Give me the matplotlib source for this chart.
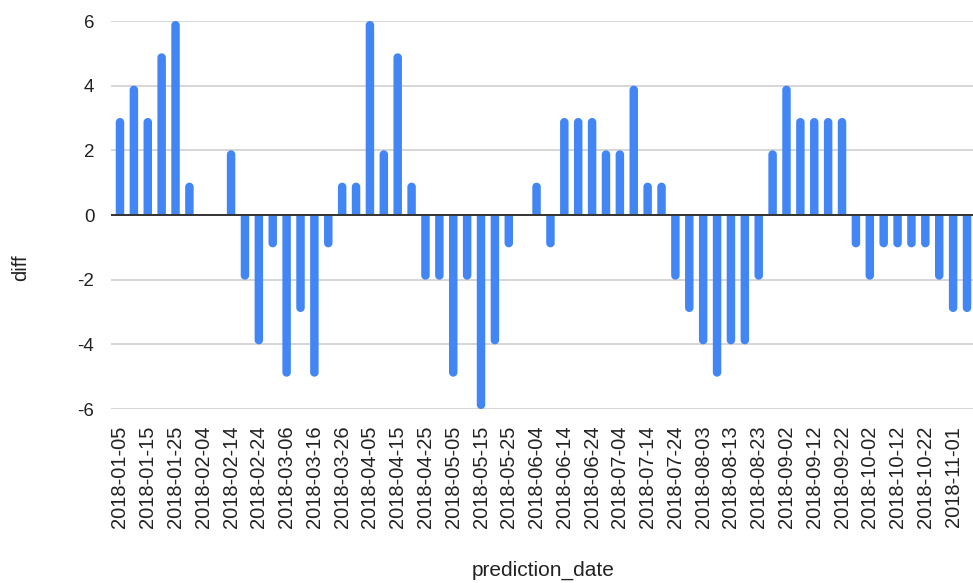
import matplotlib
matplotlib.use("Agg")
import matplotlib.pyplot as plt
import matplotlib.dates as mdates
from matplotlib.collections import PolyCollection
import numpy as np
import pandas as pd

# Daily forecast differences, sampled every five days
prediction_date = [
    "2018-01-05", "2018-01-10", "2018-01-15", "2018-01-20", "2018-01-25", "2018-01-30",
    "2018-02-04", "2018-02-09", "2018-02-14", "2018-02-19", "2018-02-24", "2018-03-01",
    "2018-03-06", "2018-03-11", "2018-03-16", "2018-03-21", "2018-03-26", "2018-03-31",
    "2018-04-05", "2018-04-10", "2018-04-15", "2018-04-20", "2018-04-25", "2018-04-30",
    "2018-05-05", "2018-05-10", "2018-05-15", "2018-05-20", "2018-05-25", "2018-05-30",
    "2018-06-04", "2018-06-09", "2018-06-14", "2018-06-19", "2018-06-24", "2018-06-29",
    "2018-07-04", "2018-07-09", "2018-07-14", "2018-07-19", "2018-07-24", "2018-07-29",
    "2018-08-03", "2018-08-08", "2018-08-13", "2018-08-18", "2018-08-23", "2018-08-28",
    "2018-09-02", "2018-09-07", "2018-09-12", "2018-09-17", "2018-09-22", "2018-09-27",
    "2018-10-02", "2018-10-07", "2018-10-12", "2018-10-17", "2018-10-22", "2018-10-27",
    "2018-11-01", "2018-11-06",
]
diff = [
    3, 4, 3, 5, 6, 1,
    0, 0, 2, -2, -4, -1,
    -5, -3, -5, -1, 1, 1,
    6, 2, 5, 1, -2, -2,
    -5, -2, -6, -4, -1, 0,
    1, -1, 3, 3, 3, 2,
    2, 4, 1, 1, -2, -3,
    -4, -5, -4, -4, -2, 2,
    4, 3, 3, 3, 3, -1,
    -2, -1, -1, -1, -1, -2,
    -3, -3,
]
tick_dates = [
    "2018-01-05", "2018-01-15", "2018-01-25", "2018-02-04", "2018-02-14", "2018-02-24",
    "2018-03-06", "2018-03-16", "2018-03-26", "2018-04-05", "2018-04-15", "2018-04-25",
    "2018-05-05", "2018-05-15", "2018-05-25", "2018-06-04", "2018-06-14", "2018-06-24",
    "2018-07-04", "2018-07-14", "2018-07-24", "2018-08-03", "2018-08-13", "2018-08-23",
    "2018-09-02", "2018-09-12", "2018-09-22", "2018-10-02", "2018-10-12", "2018-10-22",
    "2018-11-01",
]
y_ticks = [-6, -4, -2, 0, 2, 4, 6]

plt.rcParams["font.family"] = ["Liberation Sans", "DejaVu Sans"]

BAR_COLOR = "#4285F4"
TEXT_COLOR = "#222222"

dates = pd.to_datetime(prediction_date)
ticks = pd.to_datetime(tick_dates)
x_num = mdates.date2num(dates.to_pydatetime())
values = np.array(diff, dtype=float)

fig = plt.figure(figsize=(9.73, 5.83), dpi=100)
ax_h_px = 409 - 21
ax = fig.add_axes([111 / 973, 1 - 409 / 583, 862 / 973, ax_h_px / 583])

ax.set_ylim(-6, 6)
x_lo = x_num[0] - 3.24
x_hi = x_num[-1] + 2.16
ax.set_xlim(x_lo, x_hi)
ax.xaxis_date()

# Bars: flat at zero, rounded (elliptical in data units) at the value end
bar_days = 3.05
bar_px = bar_days * 862 / (x_hi - x_lo)
cap_r = (bar_px / 2) * 12 / ax_h_px
theta = np.linspace(np.pi, 0, 19)
polys = []
for xc, v in zip(x_num, values):
    if v == 0:
        continue
    s = np.sign(v)
    end = v - s * cap_r
    half = bar_days / 2
    arc_x = xc + half * np.cos(theta)
    arc_y = end + s * cap_r * np.sin(theta)
    pts = [(xc - half, 0.0)] + list(zip(arc_x, arc_y)) + [(xc + half, 0.0)]
    polys.append(pts)
ax.add_collection(PolyCollection(polys, facecolors=BAR_COLOR, edgecolors="none",
                                 zorder=3))

ax.set_yticks(y_ticks)
ax.set_yticklabels([str(v) for v in y_ticks], fontsize=13.5, color=TEXT_COLOR)
ax.grid(axis="y", color="#cccccc", linewidth=1.1, zorder=0)
ax.axhline(0, color="#333333", linewidth=1.4, zorder=4)

ax.set_xticks(mdates.date2num(ticks.to_pydatetime()))
ax.set_xticklabels(tick_dates, rotation=90, fontsize=14.5, color=TEXT_COLOR)

ax.tick_params(axis="both", length=0)
ax.tick_params(axis="y", pad=12)
ax.tick_params(axis="x", pad=12)
for side in ax.spines.values():
    side.set_visible(False)

fig.text(21 / 973, 1 - 268 / 583, "diff", rotation=90, fontsize=14.5,
         color=TEXT_COLOR, ha="center", va="center")
fig.text(543 / 973, 1 - 570 / 583, "prediction_date", fontsize=15,
         color=TEXT_COLOR, ha="center", va="center")

fig.savefig("out.png", dpi=100)
